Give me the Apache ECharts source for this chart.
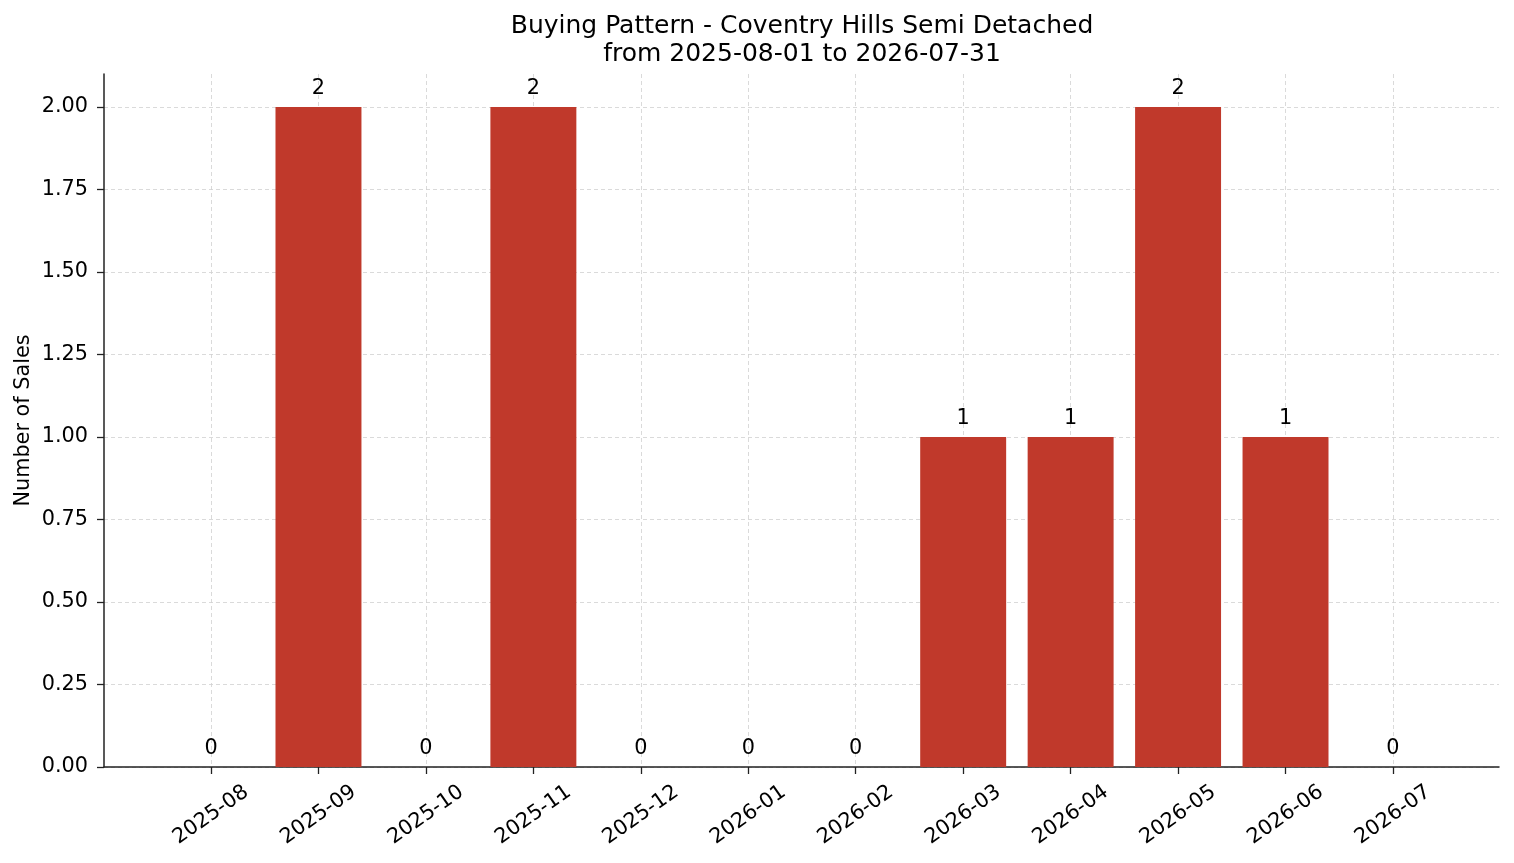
<!DOCTYPE html>
<html>
<head>
<meta charset="utf-8">
<script src="https://cdn.jsdelivr.net/npm/echarts@6/dist/echarts.min.js"></script>
<style>
  html, body { margin: 0; padding: 0; background: #fff; }
  #container { width: 1514px; height: 863px; }
</style>
</head>
<body>
<div id="container"></div>
<script>
// monthly sales
var months = ['2025-08', '2025-09', '2025-10', '2025-11', '2025-12', '2026-01',
              '2026-02', '2026-03', '2026-04', '2026-05', '2026-06', '2026-07'];
var sales = [0, 2, 0, 2, 0, 0, 0, 1, 1, 2, 1, 0];

var titleText = 'Buying Pattern - Coventry Hills Semi Detached\nfrom 2025-08-01 to 2026-07-31';
var yName = 'Number of Sales';

var font = 'DejaVu Sans';
var fs = 20.8;
var gridLine = { show: true, lineStyle: { color: '#d0d0d0', width: 0.8, type: [4, 3] } };
var tickStyle = { color: '#222', width: 1.3 };

var myChart = echarts.init(document.getElementById('container'));
var option = {
    backgroundColor: '#fff',
    animation: false,
    textStyle: { fontFamily: font },
    title: {
        text: titleText,
        left: 797,
        textAlign: 'center',
        top: 7,
        textStyle: { fontFamily: font, fontSize: 25, fontWeight: 'normal', color: '#000', lineHeight: 28 }
    },
    grid: [
        // 0: frame (spines)
        { left: 104, right: 15, top: 74, bottom: 96, outerBoundsMode: 'none' },
        // 1: y ticks + horizontal grid, top at 2.00
        { left: 104, right: 15, top: 107, bottom: 96, outerBoundsMode: 'none' },
        // 2: bars
        { left: 157.3, right: 67.3, top: 74, bottom: 96, outerBoundsMode: 'none' },
        // 3: x ticks + vertical grid, from first to last month centre
        { left: 211, right: 121, top: 74, bottom: 96, outerBoundsMode: 'none' }
    ],
    xAxis: [
        { gridIndex: 0, type: 'value', min: 0, max: 1,
          axisLine: { show: true, onZero: false, lineStyle: { color: '#222', width: 1.5 } },
          axisTick: { show: false }, axisLabel: { show: false }, splitLine: { show: false } },
        { gridIndex: 1, type: 'value', min: 0, max: 1, show: false },
        { gridIndex: 2, type: 'category', data: months, show: false },
        { gridIndex: 3, type: 'category', data: months, boundaryGap: false,
          axisLine: { show: false },
          axisTick: { show: true, length: 7, lineStyle: tickStyle },
          axisLabel: { rotate: 35, align: 'center', verticalAlign: 'middle', interval: 0,
                       fontSize: fs, color: '#000', fontFamily: font, margin: 48 },
          splitLine: gridLine }
    ],
    yAxis: [
        { gridIndex: 0, type: 'value', min: 0, max: 2.1,
          axisLine: { show: true, onZero: false, lineStyle: { color: '#222', width: 1.5 } },
          axisTick: { show: false }, axisLabel: { show: false }, splitLine: { show: false },
          name: yName, nameLocation: 'middle', nameGap: 70,
          nameTextStyle: { fontSize: fs, color: '#000', fontFamily: font } },
        { gridIndex: 1, type: 'value', min: 0, max: 2, interval: 0.25,
          axisLine: { show: false },
          axisTick: { show: true, length: 7, lineStyle: tickStyle },
          axisLabel: { fontSize: fs, color: '#000', fontFamily: font, margin: 16,
                       formatter: function (v) { return v.toFixed(2); } },
          splitLine: gridLine },
        { gridIndex: 2, type: 'value', min: 0, max: 2.1, show: false },
        { gridIndex: 3, type: 'value', min: 0, max: 2.1, show: false }
    ],
    series: [{
        type: 'bar',
        xAxisIndex: 2,
        yAxisIndex: 2,
        data: sales,
        barWidth: '80%',
        itemStyle: { color: '#c0392b' },
        label: { show: true, position: 'top', distance: 8, fontSize: fs, color: '#000', fontFamily: font }
    }]
};
myChart.setOption(option);
</script>
</body>
</html>
